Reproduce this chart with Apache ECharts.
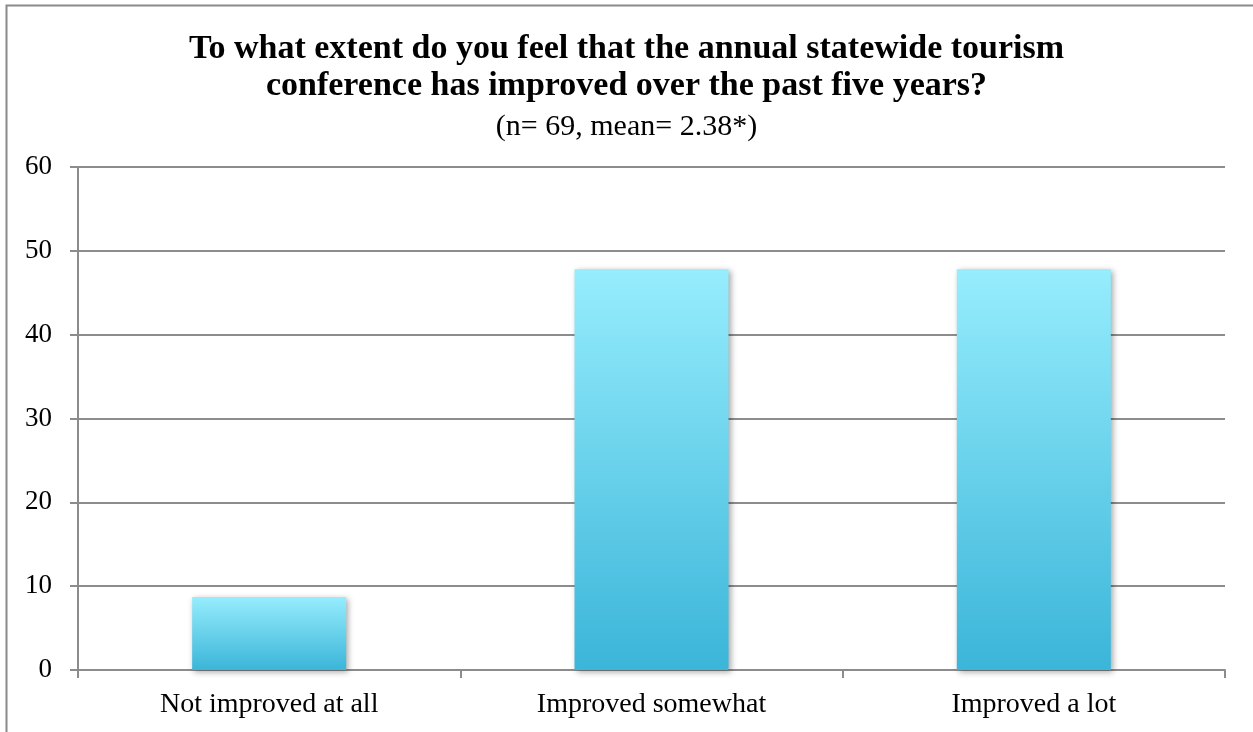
<!DOCTYPE html>
<html>
<head>
<meta charset="utf-8">
<script src="https://cdn.jsdelivr.net/npm/echarts@6/dist/echarts.min.js"></script>
<style>
  html, body { margin: 0; padding: 0; background: #fff; }
  #chart { width: 1253px; height: 732px; }
</style>
</head>
<body>
<div id="chart"></div>
<script>
// Survey responses (percent of respondents)
const categories = ['Not improved at all', 'Improved somewhat', 'Improved a lot'];
const values = [8.7, 47.8, 47.8];
const yTicks = { min: 0, max: 60, interval: 10 };

const titleLines = [
  'To what extent do you feel that the annual statewide tourism',
  'conference has improved over the past five years?'
];
const subtitle = '(n= 69, mean= 2.38*)';

const FONT = '"Liberation Serif", "DejaVu Serif", serif';
const chart = echarts.init(document.getElementById('chart'), null, { renderer: 'canvas' });

chart.setOption({
  backgroundColor: '#ffffff',
  animation: false,
  title: [{
    text: titleLines.join('\n'),
    left: 'center',
    top: 26,
    textStyle: { fontFamily: FONT, fontWeight: 'bold', fontSize: 34, color: '#000', lineHeight: 37 }
  }, {
    text: subtitle,
    left: 'center',
    top: 106,
    textStyle: { fontFamily: FONT, fontWeight: 'normal', fontSize: 30, color: '#000', lineHeight: 32 }
  }],
  graphic: [{
    type: 'rect',
    shape: { x: 6.5, y: 5.5, width: 1260, height: 760 },
    style: { fill: 'none', stroke: '#8a8a8a', lineWidth: 2 },
    silent: true
  }],
  grid: { left: 78, right: 28, top: 167, bottom: 62, containLabel: false },
  xAxis: {
    type: 'category',
    data: categories,
    axisLine: { lineStyle: { color: '#8c8c8c', width: 2 } },
    axisTick: { show: true, length: 8, lineStyle: { color: '#8c8c8c', width: 2 } },
    axisLabel: { fontFamily: FONT, fontSize: 28, color: '#000', margin: 21 }
  },
  yAxis: {
    type: 'value',
    min: yTicks.min, max: yTicks.max, interval: yTicks.interval,
    axisLine: { show: true, lineStyle: { color: '#8c8c8c', width: 2 } },
    axisTick: { show: true, length: 8, lineStyle: { color: '#8c8c8c', width: 2 } },
    axisLabel: { fontFamily: FONT, fontSize: 27, color: '#000', margin: 26 },
    splitLine: { show: true, lineStyle: { color: '#8c8c8c', width: 2 } }
  },
  series: [{
    type: 'bar',
    data: values,
    barWidth: 154,
    itemStyle: {
      color: new echarts.graphic.LinearGradient(0, 0, 0, 1, [
        { offset: 0, color: '#96edfd' },
        { offset: 1, color: '#3bb5d9' }
      ]),
      shadowColor: 'rgba(0,0,0,0.35)',
      shadowBlur: 6,
      shadowOffsetX: 2,
      shadowOffsetY: 2
    }
  }]
});
</script>
</body>
</html>
